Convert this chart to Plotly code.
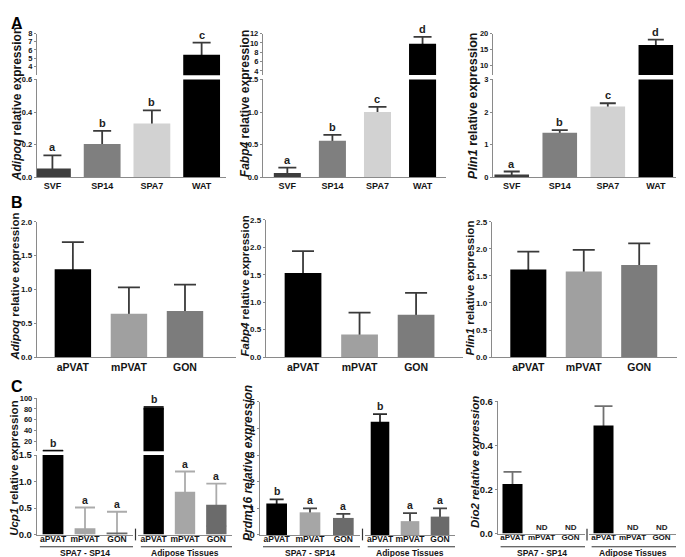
import plotly.graph_objects as go

W, H = 685, 557
FONT = "Arial, Liberation Sans, sans-serif"
LINE = "#8a8a8a"
INK = "#151515"

# ---- panel A : cultured cells vs WAT ----
cats_A = ["SVF", "SP14", "SPA7", "WAT"]
adipoq_A = [0.055, 0.205, 0.33, 5.4]
adipoq_A_err = [0.08, 0.08, 0.08, 1.5]
adipoq_A_sig = ["a", "b", "b", "c"]
fabp4_A = [0.066, 0.56, 1.0, 9.85]
fabp4_A_err = [0.085, 0.09, 0.08, 1.45]
fabp4_A_sig = ["a", "b", "c", "d"]
plin1_A = [0.09, 1.37, 2.17, 16.4]
plin1_A_err = [0.09, 0.08, 0.1, 1.7]
plin1_A_sig = ["a", "b", "c", "d"]
colors_A = ["#3d3d3d", "#7f7f7f", "#d2d2d2", "#000000"]

# ---- panel B : adipose depots ----
cats_B = ["aPVAT", "mPVAT", "GON"]
adipoq_B = [1.30, 0.64, 0.68]
adipoq_B_err = [0.40, 0.39, 0.39]
fabp4_B = [1.53, 0.41, 0.77]
fabp4_B_err = [0.40, 0.40, 0.40]
plin1_B = [1.62, 1.58, 1.70]
plin1_B_err = [0.33, 0.40, 0.40]
colors_B = ["#000000", "#a0a0a0", "#7c7c7c"]

# ---- panel C : thermogenic genes ----
groups_C = ["SPA7 - SP14", "Adipose Tissues"]
cats_C = ["aPVAT", "mPVAT", "GON"]
ucp1_cells = [1.55, 0.12, 0.04]
ucp1_cells_err = [0.9, 0.39, 0.39]
ucp1_tis = [82.3, 0.81, 0.56]
ucp1_tis_err = [1.8, 0.38, 0.40]
ucp1_sig = ["b", "a", "a"]
prdm16_cells = [1.18, 0.85, 0.64]
prdm16_cells_err = [0.16, 0.15, 0.15]
prdm16_tis = [4.25, 0.52, 0.69]
prdm16_tis_err = [0.28, 0.30, 0.31]
prdm16_sig = ["b", "a", "a"]
dio2_cells = [0.225, 0, 0]
dio2_cells_err = [0.055, None, None]
dio2_tis = [0.49, 0, 0]
dio2_tis_err = [0.088, None, None]
dio2_sig = ["", "ND", "ND"]
colors_C = ["#000000", "#a6a6a6", "#6b6b6b"]


def dom_x(a, b):
    return [a / W, b / W]


def dom_y(top, bottom):
    return [1 - bottom / H, 1 - top / H]


fig = go.Figure()
n_ax = 0


def new_axes(xpx, ypx, xr, yr, cats, tickvals, tickfmt=None, xlabels=True,
             yline=True, tfont=8, xfont=9, xstand=0):
    global n_ax
    n_ax += 1
    s = "" if n_ax == 1 else str(n_ax)
    line = dict(showline=True, linecolor=LINE, linewidth=1.4, showgrid=False,
                zeroline=False, fixedrange=True)
    xa = dict(domain=dom_x(*xpx), range=xr, anchor="y" + s, type="category",
              categoryorder="array", categoryarray=cats, ticks="", tickangle=0,
              ticklabelstandoff=xstand,
              tickfont=dict(family=FONT, size=xfont, color=INK, weight="bold"),
              visible=xlabels, **line)
    ya = dict(domain=dom_y(*ypx), range=yr, anchor="x" + s, visible=yline,
              ticks="outside", ticklen=2, tickwidth=1.2, tickcolor=LINE,
              tickvals=tickvals,
              tickfont=dict(family=FONT, size=tfont, color=INK, weight="bold"),
              **line)
    if tickfmt:
        ya["tickformat"] = tickfmt
    fig.update_layout({"xaxis" + s: xa, "yaxis" + s: ya})
    return s


def draw_bars(s, yr, cats, vals, errs, colors, ecolors, width, ewidth, ethick=1.8):
    # error bars sit behind the bars so only the upper half shows;
    # only the ones ending inside this segment of the axis are drawn
    for c, v, e, ec in zip(cats, vals, errs, ecolors):
        if e is None or not (yr[0] < v + e <= yr[1]):
            continue
        fig.add_trace(go.Bar(
            x=[c], y=[v], width=width, xaxis="x" + s, yaxis="y" + s,
            marker=dict(color="rgba(0,0,0,0)", line=dict(width=0)),
            error_y=dict(type="data", array=[e], symmetric=True, color=ec,
                         thickness=ethick, width=ewidth)))
    fig.add_trace(go.Bar(x=cats, y=vals, width=width, xaxis="x" + s, yaxis="y" + s,
                         marker=dict(color=colors, line=dict(width=0))))


def add_sig(pairs, cats, vals, errs, sig, size=11):
    for c, v, e, t in zip(cats, vals, errs, sig):
        if not t:
            continue
        top = v + (e or 0)
        s = next((a for a, ymax in pairs if top <= ymax), pairs[-1][0])
        fig.add_annotation(x=c, y=top, xref="x" + s, yref="y" + s, text=t,
                           showarrow=False, yanchor="bottom",
                           font=dict(family=FONT, size=size, color="#222", weight="bold"))


def y_title(text, xpx, ypx, size):
    fig.add_annotation(x=xpx / W, y=1 - ypx / H, xref="paper", yref="paper",
                       text=text, textangle=-90, showarrow=False,
                       xanchor="center", yanchor="middle",
                       font=dict(family=FONT, size=size, color=INK, weight="bold"))


def broken_panel(cats, vals, errs, sig, colors, xpx, xr, lower, upper,
                 width, ewidth, ecolors):
    lo = new_axes(xpx, lower[0], xr, lower[1], cats, lower[2], lower[3], tfont=7.5)
    up = new_axes(xpx, upper[0], xr, upper[1], cats, upper[2], upper[3],
                  xlabels=False, tfont=7.5)
    for s, yr in ((lo, lower[1]), (up, upper[1])):
        draw_bars(s, yr, cats, vals, errs, colors, ecolors, width, ewidth)
    add_sig([(lo, lower[1][1]), (up, upper[1][1])], cats, vals, errs, sig)
    return lo, up


dark4 = ["#3a3a3a"] * 4
dark3 = ["#3a3a3a"] * 3

# A
broken_panel(cats_A, adipoq_A, adipoq_A_err, adipoq_A_sig, colors_A, (29, 218),
             [-0.31, 3.49],
             ((66.7, 166.7), [0, 0.6], [0, 0.2, 0.4, 0.6], ".1f"),
             ((20, 62.5), [2.9, 8], [4, 5, 6, 7, 8], None),
             0.74, 9, dark4)
broken_panel(cats_A, fabp4_A, fabp4_A_err, fabp4_A_sig, colors_A, (255, 438),
             [-0.54, 3.52],
             ((66.7, 166.7), [0, 1.5], [0, 0.5, 1, 1.5], ".1f"),
             ((20, 62.3), [3.1, 12], [4, 6, 8, 10, 12], None),
             0.6, 9, dark4)
broken_panel(cats_A, plin1_A, plin1_A_err, plin1_A_sig, colors_A, (485, 668),
             [-0.39, 3.42],
             ((66.7, 166.7), [0, 3], [0, 1, 2, 3], None),
             ((20, 62.3), [6.9, 20], [10, 15, 20], None),
             0.72, 8, dark4)
y_title("<i>Adipoq</i> relative expression", 9, 92, 12)
y_title("<i>Fabp4</i> relative expression", 237, 92, 12)
y_title("<i>Plin1</i> relative expression", 465, 93, 12.5)

# B
for vals, errs, xpx, xr, ytop, yr in [
        (adipoq_B, adipoq_B_err, (29, 228), [-0.64, 2.91], 212, [0, 2.0]),
        (fabp4_B, fabp4_B_err, (258, 455), [-0.655, 2.83], 210, [0, 2.5]),
        (plin1_B, plin1_B_err, (484, 680), [-0.655, 2.88], 212, [0, 2.5])]:
    ticks = [i * 0.5 for i in range(int(yr[1] / 0.5) + 1)]
    s = new_axes(xpx, (ytop, 350), xr, yr, cats_B, ticks, ".1f", tfont=8, xfont=10.5)
    draw_bars(s, yr, cats_B, vals, errs, colors_B, dark3, 0.65, 11)
y_title("<i>Adipoq</i> relative expression", 7, 278, 11.5)
y_title("<i>Fabp4</i> relative expression", 237, 278, 11.5)
y_title("<i>Plin1</i> relative expression", 462, 280, 11.5)

# C
c_groups = []
ucp1_ecol = ["#2a2a2a", "#ababab", "#ababab"]
lower_c1 = ((450, 531), [0, 1.5], [0, 0.5, 1, 1.5], ".1f")
upper_c1 = ((392, 446), [1.4, 100], [20, 40, 60, 80, 100], None)
axes_c1 = []
for g, (vals, errs, xpx) in enumerate([(ucp1_cells, ucp1_cells_err, (29, 125)),
                                      (ucp1_tis, ucp1_tis_err, (130, 224))]):
    lo = new_axes(xpx, lower_c1[0], [-0.5, 2.5], lower_c1[1], cats_C, lower_c1[2],
                  lower_c1[3], yline=(g == 0), tfont=9.5, xfont=8.5, xstand=-4)
    up = new_axes(xpx, upper_c1[0], [-0.5, 2.5], upper_c1[1], cats_C, upper_c1[2],
                  xlabels=False, yline=(g == 0), tfont=7.5)
    for s, yr in ((lo, lower_c1[1]), (up, upper_c1[1])):
        draw_bars(s, yr, cats_C, vals, errs, colors_C, ucp1_ecol, 0.65, 10)
    add_sig([(lo, 1.5), (up, 100)], cats_C, vals, errs, ucp1_sig, size=10.5)
    axes_c1.append(lo)
c_groups.append((axes_c1, 127.5))

axes_c2 = []
for g, (vals, errs, xpx) in enumerate([(prdm16_cells, prdm16_cells_err, (252, 352)),
                                      (prdm16_tis, prdm16_tis_err, (357, 447))]):
    yr = [0, 5]
    s = new_axes(xpx, (395.5, 531.5), [-0.5, 2.5], yr, cats_C, [0, 1, 2, 3, 4, 5],
                 yline=(g == 0), tfont=9.5, xfont=8.5, xstand=-4)
    draw_bars(s, yr, cats_C, vals, errs, colors_C, ["#2a2a2a", "#444", "#444"], 0.62, 7)
    add_sig([(s, 5)], cats_C, vals, errs, prdm16_sig, size=10.5)
    axes_c2.append(s)
c_groups.append((axes_c2, 354.5))

axes_c3 = []
for g, (vals, errs, xpx) in enumerate([(dio2_cells, dio2_cells_err, (490, 577)),
                                      (dio2_tis, dio2_tis_err, (581, 668))]):
    yr = [0, 0.6]
    s = new_axes(xpx, (395, 530), [-0.5, 2.5], yr, cats_C, [0, 0.2, 0.4, 0.6],
                 ".1f", yline=(g == 0), tfont=9.5, xfont=8, xstand=-4)
    draw_bars(s, yr, cats_C, vals, errs, colors_C, ["#707070"] * 3, 0.69, 9)
    add_sig([(s, 0.6)], cats_C, vals, errs, dio2_sig, size=8)
    axes_c3.append(s)
c_groups.append((axes_c3, 579))

for axes, brk in c_groups:
    for s, name in zip(axes, groups_C):
        fig.add_shape(type="line", xref="x" + s + " domain", yref="paper",
                      x0=0.03, x1=1.0, y0=1 - 543.5 / H, y1=1 - 543.5 / H,
                      line=dict(color="#333", width=1))
        fig.add_annotation(xref="x" + s + " domain", yref="paper", x=0.5,
                           y=1 - 550 / H, yanchor="middle", text=name,
                           showarrow=False, borderpad=0,
                           font=dict(family=FONT, size=8.5, color=INK, weight="bold"))
    fig.add_shape(type="line", xref="paper", yref="paper", x0=brk / W, x1=brk / W,
                  y0=1 - 537 / H, y1=1 - 525 / H, line=dict(color="#333", width=1.2))

y_title("<i>Ucp1</i> relative expression", 6, 463, 11.5)
y_title("<i>Prdm16 relative expression</i>", 240, 458, 12)
y_title("<i>Dio2 relative expression</i>", 467, 457, 11.5)

# panel letters
for letter, ypx in [("A", 0), ("B", 183), ("C", 370)]:
    fig.add_annotation(x=2 / W, y=1 - ypx / H, xref="paper", yref="paper", text=letter,
                       showarrow=False, xanchor="left", yanchor="top", borderpad=0,
                       font=dict(family=FONT, size=16, color="#000", weight="bold"))

fig.update_layout(width=W, height=H, margin=dict(l=0, r=0, t=0, b=0),
                  barmode="overlay", showlegend=False, hovermode=False,
                  plot_bgcolor="white", paper_bgcolor="white")

fig.write_html("out.html")
